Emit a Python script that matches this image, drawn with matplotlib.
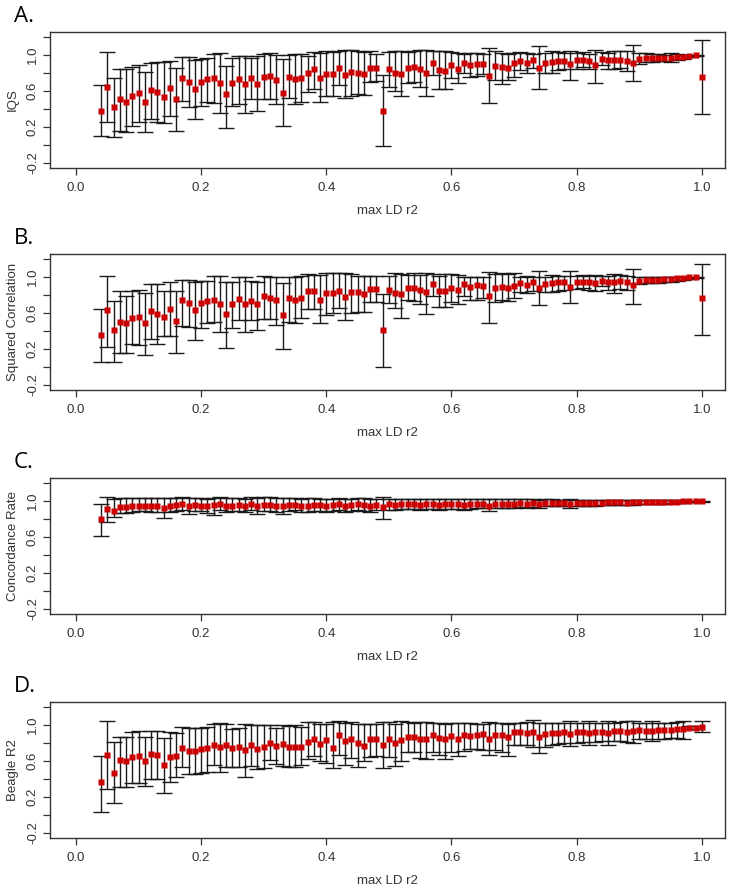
import numpy as np
import matplotlib
matplotlib.use('Agg')
import matplotlib.pyplot as plt

plt.rcParams['font.family'] = ['Liberation Sans', 'DejaVu Sans']

# max LD r2 bins
ld = [0.04, 0.05, 0.06, 0.07, 0.08, 0.09, 0.10, 0.11, 0.12, 0.13,
      0.14, 0.15, 0.16, 0.17, 0.18, 0.19, 0.20, 0.21, 0.22, 0.23,
      0.24, 0.25, 0.26, 0.27, 0.28, 0.29, 0.30, 0.31, 0.32, 0.33,
      0.34, 0.35, 0.36, 0.37, 0.38, 0.39, 0.40, 0.41, 0.42, 0.43,
      0.44, 0.45, 0.46, 0.47, 0.48, 0.49, 0.50, 0.51, 0.52, 0.53,
      0.54, 0.55, 0.56, 0.57, 0.58, 0.59, 0.60, 0.61, 0.62, 0.63,
      0.64, 0.65, 0.66, 0.67, 0.68, 0.69, 0.70, 0.71, 0.72, 0.73,
      0.74, 0.75, 0.76, 0.77, 0.78, 0.79, 0.80, 0.81, 0.82, 0.83,
      0.84, 0.85, 0.86, 0.87, 0.88, 0.89, 0.90, 0.91, 0.92, 0.93,
      0.94, 0.95, 0.96, 0.97, 0.98, 0.99, 1.00]

# A. IQS
iqs_mean = [0.38, 0.65, 0.42, 0.51, 0.48, 0.54, 0.58, 0.48, 0.61, 0.59,
            0.53, 0.63, 0.51, 0.74, 0.70, 0.62, 0.70, 0.73, 0.74, 0.69,
            0.57, 0.69, 0.73, 0.68, 0.75, 0.68, 0.76, 0.77, 0.72, 0.58,
            0.76, 0.73, 0.75, 0.80, 0.84, 0.75, 0.79, 0.79, 0.86, 0.78,
            0.81, 0.80, 0.79, 0.86, 0.86, 0.38, 0.84, 0.80, 0.79, 0.86,
            0.87, 0.84, 0.80, 0.91, 0.83, 0.82, 0.89, 0.85, 0.91, 0.89,
            0.90, 0.90, 0.77, 0.88, 0.87, 0.86, 0.91, 0.93, 0.91, 0.94,
            0.86, 0.91, 0.92, 0.93, 0.93, 0.90, 0.94, 0.95, 0.93, 0.89,
            0.96, 0.94, 0.94, 0.95, 0.93, 0.91, 0.96, 0.97, 0.97, 0.97,
            0.97, 0.97, 0.98, 0.98, 0.99, 1.00, 0.76]
iqs_hi = [0.67, 1.03, 0.75, 0.84, 0.85, 0.87, 0.89, 0.81, 0.91, 0.92,
          0.92, 0.93, 0.86, 0.98, 0.98, 0.94, 0.96, 0.97, 1.01, 1.02,
          0.88, 0.97, 0.99, 0.99, 0.97, 0.99, 1.01, 1.02, 1.00, 0.96,
          1.00, 1.01, 1.01, 0.99, 1.03, 1.02, 1.04, 1.03, 1.05, 1.06,
          1.06, 1.04, 1.03, 1.04, 1.01, 0.78, 1.03, 1.04, 1.04, 1.03,
          1.05, 1.06, 1.06, 1.05, 1.04, 1.04, 1.03, 1.02, 1.01, 1.02,
          1.02, 1.01, 1.08, 1.05, 1.02, 1.01, 1.02, 1.03, 1.02, 1.01,
          1.10, 1.02, 1.04, 1.03, 1.02, 1.04, 1.02, 1.03, 1.01, 1.06,
          1.03, 1.02, 1.04, 1.04, 1.04, 1.11, 1.02, 1.02, 1.01, 1.01,
          1.00, 1.02, 1.01, 1.00, 1.00, 1.00, 1.17]
iqs_lo = [0.10, 0.26, 0.09, 0.15, 0.14, 0.21, 0.26, 0.14, 0.29, 0.26,
          0.24, 0.32, 0.16, 0.49, 0.42, 0.29, 0.43, 0.48, 0.47, 0.35,
          0.19, 0.43, 0.45, 0.35, 0.51, 0.38, 0.51, 0.51, 0.46, 0.21,
          0.52, 0.46, 0.48, 0.59, 0.62, 0.48, 0.54, 0.54, 0.67, 0.52,
          0.55, 0.57, 0.56, 0.70, 0.71, -0.01, 0.65, 0.60, 0.54, 0.69,
          0.70, 0.64, 0.55, 0.78, 0.62, 0.62, 0.74, 0.69, 0.80, 0.76,
          0.77, 0.79, 0.47, 0.72, 0.68, 0.72, 0.76, 0.83, 0.80, 0.86,
          0.62, 0.80, 0.80, 0.83, 0.84, 0.72, 0.85, 0.87, 0.84, 0.69,
          0.89, 0.84, 0.85, 0.86, 0.82, 0.71, 0.90, 0.92, 0.92, 0.93,
          0.93, 0.92, 0.95, 0.96, 0.98, 0.99, 0.34]

# B. Squared Correlation
sq_mean = [0.35, 0.63, 0.41, 0.50, 0.49, 0.55, 0.56, 0.49, 0.62, 0.59,
           0.56, 0.65, 0.51, 0.74, 0.71, 0.63, 0.71, 0.73, 0.75, 0.70,
           0.59, 0.70, 0.76, 0.70, 0.73, 0.70, 0.79, 0.77, 0.74, 0.58,
           0.77, 0.75, 0.77, 0.84, 0.85, 0.75, 0.82, 0.82, 0.85, 0.78,
           0.83, 0.83, 0.81, 0.87, 0.87, 0.41, 0.86, 0.82, 0.81, 0.88,
           0.88, 0.86, 0.83, 0.92, 0.85, 0.84, 0.88, 0.86, 0.92, 0.89,
           0.91, 0.90, 0.79, 0.88, 0.89, 0.88, 0.90, 0.93, 0.91, 0.94,
           0.88, 0.92, 0.93, 0.94, 0.94, 0.89, 0.95, 0.95, 0.94, 0.93,
           0.96, 0.95, 0.95, 0.96, 0.95, 0.91, 0.96, 0.97, 0.97, 0.97,
           0.98, 0.98, 0.99, 0.99, 1.00, 1.00, 0.77]
sq_hi = [0.64, 1.01, 0.73, 0.85, 0.79, 0.84, 0.86, 0.82, 0.92, 0.92,
         0.85, 0.94, 0.85, 0.97, 0.97, 0.94, 0.96, 0.96, 1.01, 1.01,
         0.95, 0.94, 1.00, 1.00, 0.96, 0.95, 1.01, 1.00, 1.00, 0.93,
         1.00, 1.00, 1.01, 1.03, 1.02, 1.02, 1.04, 1.04, 1.05, 1.05,
         1.03, 1.01, 1.01, 1.01, 1.01, 0.81, 1.01, 1.04, 1.03, 1.02,
         1.04, 1.02, 1.05, 1.03, 1.01, 1.03, 1.03, 1.02, 1.00, 1.00,
         1.00, 1.00, 1.06, 1.03, 1.04, 1.03, 1.04, 1.00, 1.01, 1.00,
         1.07, 1.00, 1.02, 1.01, 1.01, 1.07, 1.01, 1.02, 1.01, 1.02,
         1.01, 1.01, 1.03, 1.02, 1.01, 1.09, 1.00, 1.00, 1.00, 1.00,
         1.00, 1.00, 1.00, 1.00, 1.00, 1.00, 1.15]
sq_lo = [0.05, 0.22, 0.06, 0.15, 0.16, 0.25, 0.24, 0.13, 0.31, 0.25,
         0.34, 0.34, 0.16, 0.45, 0.44, 0.30, 0.43, 0.49, 0.50, 0.39,
         0.21, 0.43, 0.52, 0.39, 0.52, 0.41, 0.53, 0.53, 0.47, 0.20,
         0.50, 0.49, 0.54, 0.64, 0.64, 0.49, 0.58, 0.60, 0.66, 0.52,
         0.60, 0.61, 0.61, 0.72, 0.72, 0.00, 0.71, 0.66, 0.55, 0.74,
         0.73, 0.70, 0.59, 0.79, 0.67, 0.67, 0.72, 0.70, 0.79, 0.75,
         0.75, 0.77, 0.49, 0.72, 0.74, 0.73, 0.77, 0.83, 0.82, 0.85,
         0.69, 0.83, 0.83, 0.85, 0.86, 0.71, 0.87, 0.88, 0.86, 0.84,
         0.90, 0.86, 0.82, 0.87, 0.86, 0.70, 0.92, 0.93, 0.93, 0.93,
         0.94, 0.94, 0.96, 0.97, 0.98, 0.99, 0.35]

# C. Concordance Rate
cr_mean = [0.80, 0.91, 0.89, 0.93, 0.93, 0.94, 0.94, 0.95, 0.95, 0.95,
           0.92, 0.95, 0.96, 0.97, 0.95, 0.96, 0.95, 0.94, 0.96, 0.97,
           0.95, 0.95, 0.96, 0.95, 0.97, 0.94, 0.96, 0.96, 0.95, 0.94,
           0.96, 0.96, 0.95, 0.95, 0.96, 0.96, 0.95, 0.96, 0.97, 0.95,
           0.96, 0.97, 0.96, 0.95, 0.96, 0.93, 0.97, 0.96, 0.97, 0.97,
           0.97, 0.96, 0.97, 0.97, 0.96, 0.97, 0.97, 0.97, 0.96, 0.97,
           0.97, 0.97, 0.95, 0.97, 0.97, 0.97, 0.97, 0.98, 0.97, 0.98,
           0.97, 0.98, 0.98, 0.98, 0.98, 0.97, 0.98, 0.98, 0.98, 0.98,
           0.98, 0.99, 0.99, 0.99, 0.98, 0.99, 0.99, 0.99, 0.99, 0.99,
           0.99, 0.99, 0.99, 1.00, 1.00, 1.00, 1.00]
cr_hi = [0.97, 1.04, 1.02, 1.03, 1.03, 1.03, 1.03, 1.03, 1.03, 1.03,
         1.03, 1.03, 1.03, 1.04, 1.03, 1.03, 1.03, 1.02, 1.03, 1.04,
         1.03, 1.03, 1.03, 1.02, 1.04, 1.03, 1.04, 1.04, 1.03, 1.03,
         1.03, 1.03, 1.02, 1.03, 1.03, 1.02, 1.02, 1.02, 1.03, 1.02,
         1.02, 1.03, 1.03, 1.02, 1.02, 1.04, 1.02, 1.02, 1.02, 1.02,
         1.02, 1.02, 1.02, 1.02, 1.02, 1.02, 1.02, 1.02, 1.02, 1.02,
         1.02, 1.02, 1.02, 1.02, 1.02, 1.02, 1.02, 1.02, 1.02, 1.02,
         1.01, 1.02, 1.02, 1.01, 1.01, 1.02, 1.01, 1.01, 1.01, 1.01,
         1.01, 1.01, 1.01, 1.01, 1.01, 1.01, 1.01, 1.01, 1.01, 1.01,
         1.01, 1.01, 1.01, 1.00, 1.00, 1.00, 1.00]
cr_lo = [0.61, 0.77, 0.82, 0.87, 0.87, 0.88, 0.89, 0.89, 0.88, 0.88,
         0.81, 0.88, 0.89, 0.90, 0.86, 0.89, 0.89, 0.87, 0.85, 0.90,
         0.88, 0.89, 0.89, 0.88, 0.90, 0.86, 0.89, 0.89, 0.88, 0.86,
         0.89, 0.90, 0.88, 0.88, 0.89, 0.89, 0.88, 0.89, 0.90, 0.88,
         0.89, 0.90, 0.89, 0.88, 0.90, 0.80, 0.90, 0.90, 0.91, 0.91,
         0.91, 0.90, 0.91, 0.91, 0.90, 0.91, 0.91, 0.91, 0.90, 0.91,
         0.92, 0.92, 0.89, 0.92, 0.92, 0.92, 0.92, 0.93, 0.92, 0.93,
         0.92, 0.94, 0.94, 0.94, 0.94, 0.92, 0.95, 0.95, 0.95, 0.95,
         0.96, 0.96, 0.96, 0.96, 0.96, 0.96, 0.97, 0.97, 0.97, 0.97,
         0.97, 0.98, 0.98, 0.98, 0.99, 0.99, 0.99]

# D. Beagle R2
br_mean = [0.37, 0.67, 0.47, 0.61, 0.60, 0.65, 0.66, 0.60, 0.68, 0.67,
           0.56, 0.65, 0.66, 0.75, 0.71, 0.71, 0.73, 0.74, 0.78, 0.76,
           0.78, 0.74, 0.76, 0.72, 0.78, 0.73, 0.76, 0.80, 0.77, 0.79,
           0.76, 0.76, 0.76, 0.81, 0.85, 0.79, 0.83, 0.75, 0.89, 0.82,
           0.85, 0.80, 0.77, 0.85, 0.85, 0.78, 0.84, 0.80, 0.83, 0.87,
           0.87, 0.85, 0.85, 0.89, 0.86, 0.84, 0.88, 0.85, 0.89, 0.88,
           0.89, 0.90, 0.85, 0.89, 0.89, 0.87, 0.92, 0.92, 0.91, 0.92,
           0.87, 0.90, 0.91, 0.91, 0.92, 0.90, 0.92, 0.92, 0.91, 0.92,
           0.92, 0.91, 0.93, 0.93, 0.92, 0.93, 0.94, 0.93, 0.93, 0.94,
           0.94, 0.95, 0.96, 0.96, 0.97, 0.97, 0.98]
br_hi = [0.66, 1.04, 0.81, 0.87, 0.87, 0.92, 0.93, 0.87, 0.93, 0.93,
         0.86, 0.92, 0.91, 0.98, 0.97, 0.97, 0.97, 0.98, 1.01, 1.02,
         1.01, 0.96, 0.97, 1.01, 1.00, 1.00, 1.00, 1.00, 0.97, 1.00,
         0.99, 1.00, 0.98, 1.03, 1.03, 1.01, 1.01, 1.03, 1.04, 1.02,
         1.03, 1.01, 1.01, 1.01, 1.01, 1.03, 1.03, 1.01, 1.04, 1.03,
         1.02, 1.03, 1.03, 1.02, 1.02, 1.01, 1.02, 1.02, 1.02, 1.02,
         1.01, 1.01, 1.03, 1.02, 1.02, 1.01, 1.02, 1.02, 1.03, 1.06,
         1.02, 1.02, 1.02, 1.02, 1.02, 1.05, 1.02, 1.02, 1.04, 1.02,
         1.02, 1.04, 1.02, 1.03, 1.04, 1.04, 1.02, 1.02, 1.04, 1.02,
         1.02, 1.02, 1.03, 1.04, 0.99, 0.99, 1.04]
br_lo = [0.03, 0.29, 0.13, 0.31, 0.31, 0.35, 0.36, 0.32, 0.40, 0.40,
         0.24, 0.37, 0.42, 0.53, 0.45, 0.46, 0.47, 0.48, 0.56, 0.48,
         0.53, 0.53, 0.53, 0.42, 0.54, 0.51, 0.52, 0.61, 0.57, 0.55,
         0.53, 0.53, 0.56, 0.62, 0.66, 0.60, 0.58, 0.52, 0.67, 0.56,
         0.63, 0.53, 0.60, 0.64, 0.66, 0.52, 0.64, 0.55, 0.60, 0.70,
         0.70, 0.63, 0.62, 0.70, 0.67, 0.62, 0.70, 0.66, 0.71, 0.73,
         0.73, 0.72, 0.67, 0.72, 0.70, 0.66, 0.78, 0.78, 0.78, 0.76,
         0.69, 0.76, 0.78, 0.79, 0.80, 0.77, 0.80, 0.81, 0.78, 0.81,
         0.82, 0.78, 0.82, 0.82, 0.81, 0.80, 0.84, 0.84, 0.82, 0.85,
         0.85, 0.86, 0.86, 0.85, 0.96, 0.96, 0.92]

panels = [
    ('A.', 'IQS', iqs_mean, iqs_lo, iqs_hi),
    ('B.', 'Squared Correlation', sq_mean, sq_lo, sq_hi),
    ('C.', 'Concordance Rate', cr_mean, cr_lo, cr_hi),
    ('D.', 'Beagle R2', br_mean, br_lo, br_hi),
]

W, H = 730, 888
fig = plt.figure(figsize=(W / 100, H / 100), dpi=100)
box_tops = [32, 254, 478, 702]
box_h = 136
left, right = 50, 725

for (letter, ylab, m, lo, hi), top in zip(panels, box_tops):
    ax = fig.add_axes([left / W, 1 - (top + box_h) / H, (right - left) / W, box_h / H])
    m = np.array(m)
    err = [m - np.array(lo), np.array(hi) - m]
    ax.errorbar(ld, m, yerr=err, fmt='none', ecolor='#1a1a1a', elinewidth=1.0,
                capsize=6, capthick=1.0, zorder=2)
    ax.plot(ld, m, ls='none', marker='s', ms=3.8, color='#cc0000', mec='none', zorder=3)

    ax.set_xlim(-0.0415, 1.037)
    ax.set_ylim(-0.256, 1.256)
    ax.set_xticks([0.0, 0.2, 0.4, 0.6, 0.8, 1.0])
    ax.set_xticklabels(['0.0', '0.2', '0.4', '0.6', '0.8', '1.0'])
    ax.set_yticks([-0.2, 0.0, 0.2, 0.4, 0.6, 0.8, 1.0, 1.2])
    ax.set_yticklabels(['-0.2', '', '0.2', '', '0.6', '', '1.0', ''],
                       rotation=90, va='center')
    ax.tick_params(axis='both', direction='out', length=5, width=0.9,
                   labelsize=9.5, colors='#333333', pad=3)
    ax.tick_params(axis='x', pad=5)
    for s in ax.spines.values():
        s.set_linewidth(1.0)
        s.set_color('#333333')
    ax.set_xlabel('max LD r2', fontsize=9.5, color='#333333', labelpad=8)
    ax.set_ylabel(ylab, fontsize=9.5, color='#333333', labelpad=6)

    fig.text(14 / W, 1 - (top - 10) / H, letter, fontsize=16, ha='left',
             va='baseline', family=['Open Sans', 'DejaVu Sans'])

fig.savefig('out.png', dpi=100)
